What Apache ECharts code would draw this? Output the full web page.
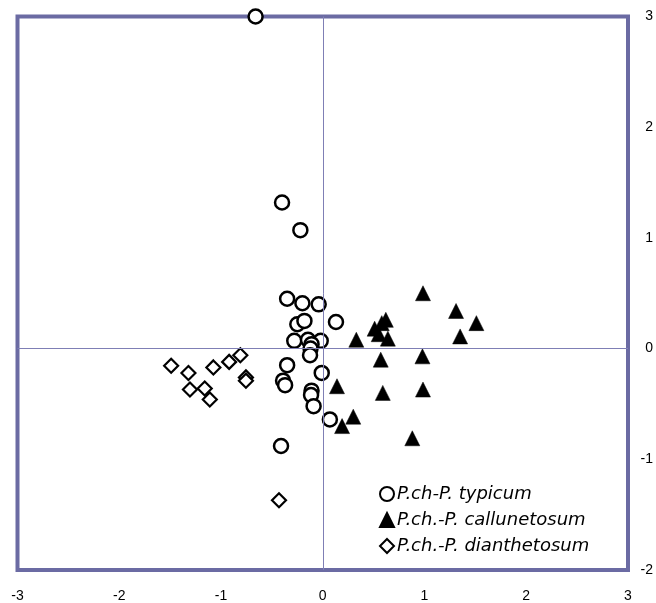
<!DOCTYPE html>
<html>
<head>
<meta charset="utf-8">
<script src="https://cdn.jsdelivr.net/npm/echarts@6/dist/echarts.min.js"></script>
<style>html,body{margin:0;padding:0;background:#fff;}#c{width:656px;height:603px;}</style>
</head>
<body>
<div id="c"></div>
<script>
const xTicks = [-3, -2, -1, 0, 1, 2, 3];
const yTicks = [-2, -1, 0, 1, 2, 3];
const seriesNames = ['P.ch-P. typicum', 'P.ch.-P. callunetosum', 'P.ch.-P. dianthetosum'];
const typicum = [
  [-0.66, 3.0], [-0.40, 1.32], [-0.22, 1.07], [-0.35, 0.45], [-0.20, 0.41], [-0.04, 0.40],
  [0.13, 0.24], [-0.25, 0.22], [-0.18, 0.25], [-0.28, 0.07], [-0.145, 0.08], [-0.02, 0.07],
  [-0.11, 0.04], [-0.12, 0.00], [-0.125, -0.06], [-0.35, -0.15], [-0.01, -0.22], [-0.39, -0.29],
  [-0.37, -0.33], [-0.11, -0.38], [-0.115, -0.42], [-0.09, -0.52], [0.07, -0.64], [-0.41, -0.88]
];
const callunetosum = [
  [0.985, 0.50], [1.31, 0.34], [1.51, 0.23], [1.35, 0.11], [0.62, 0.26], [0.58, 0.23],
  [0.51, 0.18], [0.55, 0.13], [0.64, 0.09], [0.33, 0.08], [0.57, -0.10], [0.98, -0.07],
  [0.14, -0.34], [0.59, -0.40], [0.985, -0.37], [0.30, -0.615], [0.19, -0.70], [0.88, -0.81]
];
const dianthetosum = [
  [-1.49, -0.155], [-1.32, -0.22], [-1.075, -0.17], [-0.92, -0.12], [-0.81, -0.06],
  [-1.305, -0.37], [-1.16, -0.36], [-1.11, -0.46], [-0.755, -0.26], [-0.755, -0.29], [-0.43, -1.37]
];

const chart = echarts.init(document.getElementById('c'));
chart.setOption({
  animation: false,
  grid: {
    left: 17.5, top: 16.5, width: 610.5, height: 553.5,
    show: true, borderColor: '#6b6ba3', borderWidth: 4, backgroundColor: 'transparent'
  },
  legend: {
    orient: 'vertical', left: 374, top: 480, itemGap: 8,
    itemWidth: 14, itemHeight: 14,
    textStyle: { fontFamily: 'DejaVu Sans, sans-serif', fontStyle: 'italic', fontSize: 18, color: '#000', padding: [0, 0, 0, -2] },
    data: seriesNames
  },
  xAxis: {
    type: 'value', min: -3, max: 3, interval: 1, position: 'bottom',
    axisLine: { show: false }, axisTick: { show: false }, splitLine: { show: false },
    axisLabel: { margin: 19, color: '#000', fontSize: 14, fontFamily: 'Liberation Sans, Arial, sans-serif',
      formatter: v => xTicks.includes(v) ? String(v) : '' }
  },
  yAxis: {
    type: 'value', min: -2, max: 3, interval: 1, position: 'right',
    axisLine: { show: false }, axisTick: { show: false }, splitLine: { show: false },
    axisLabel: { margin: 25, align: 'right', color: '#000', fontSize: 14, fontFamily: 'Liberation Sans, Arial, sans-serif',
      formatter: v => yTicks.includes(v) ? String(v) : '' }
  },
  series: [
    {
      name: seriesNames[0], type: 'scatter', data: typicum, clip: false,
      symbol: 'circle', symbolSize: 14,
      itemStyle: { color: '#fff', borderColor: '#000', borderWidth: 2.5, opacity: 1 },
      markLine: {
        silent: true, symbol: 'none', animation: false,
        label: { show: false },
        lineStyle: { color: '#7f7fb5', width: 1, type: 'solid' },
        data: [{ xAxis: 0 }, { yAxis: 0 }]
      },
      z: 3
    },
    {
      name: seriesNames[1], type: 'scatter', data: callunetosum, clip: false,
      symbol: 'triangle', symbolSize: 15,
      itemStyle: { color: '#000', borderColor: '#000', borderWidth: 0.5, opacity: 1 },
      z: 3
    },
    {
      name: seriesNames[2], type: 'scatter', data: dianthetosum, clip: false,
      symbol: 'diamond', symbolSize: 14,
      itemStyle: { color: '#fff', borderColor: '#000', borderWidth: 2.2, opacity: 1 },
      z: 3
    }
  ]
});
</script>
</body>
</html>
